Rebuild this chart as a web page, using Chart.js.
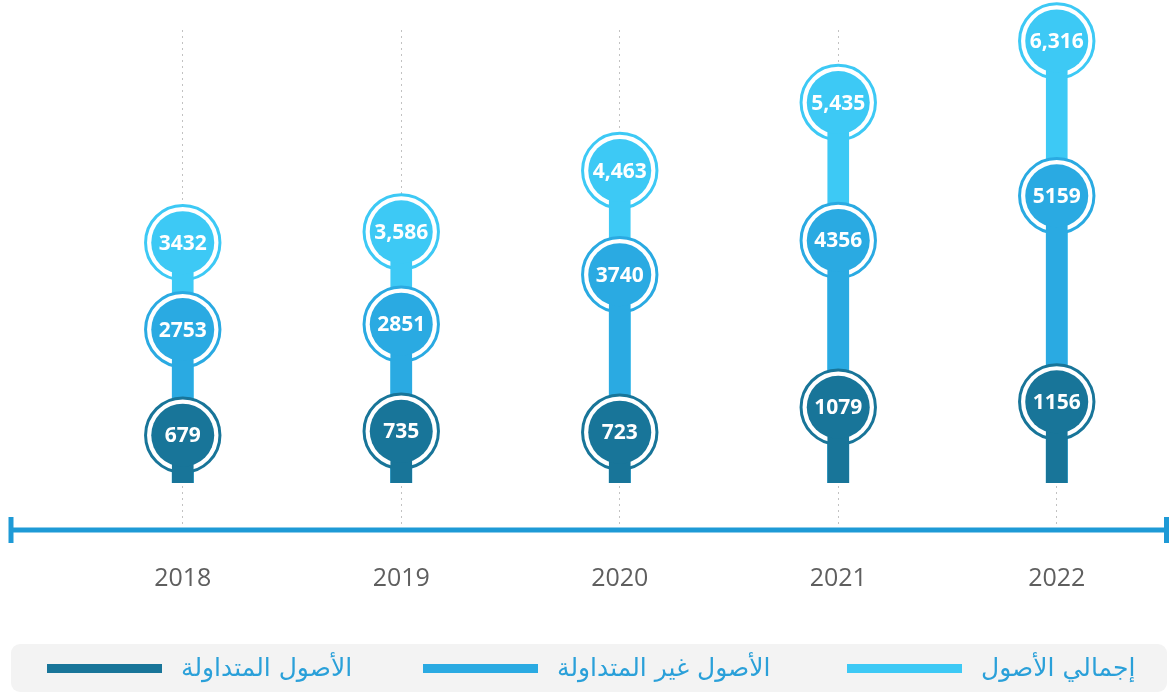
<!DOCTYPE html>
<html><head><meta charset="utf-8">
<script src="https://cdn.jsdelivr.net/npm/chart.js@4/dist/chart.umd.min.js"></script>
<style>
html,body{margin:0;padding:0;background:#fff}
#wrap{width:1169px;height:693px;position:relative;overflow:hidden}
#legend{position:absolute;left:11px;top:644px;width:1156px;height:48px;background:#f3f3f3;border-radius:9px}
.item{position:absolute;top:0;height:48px;display:flex;align-items:center;white-space:nowrap}
.swatch{display:inline-block;width:115px;height:9px}
.txt{margin-left:19px;font:25px 'DejaVu Sans',sans-serif;color:#2aa0d9;direction:rtl;line-height:48px}
</style>
</head><body><div id="wrap"><canvas id="c"></canvas><div id="legend"></div></div>
<script>
const years = ['2018', '2019', '2020', '2021', '2022'];
const currentAssets = [679, 735, 723, 1079, 1156];
const nonCurrentAssets = [2753, 2851, 3740, 4356, 5159];
const totalAssets = [3432, 3586, 4463, 5435, 6316];
const currentLabels = ['679', '735', '723', '1079', '1156'];
const nonCurrentLabels = ['2753', '2851', '3740', '4356', '5159'];
const totalLabels = ['3432', '3,586', '4,463', '5,435', '6,316'];
const seriesNames = ['الأصول المتداولة', 'الأصول غير المتداولة', 'إجمالي الأصول'];

const DARK = '#187599', MED = '#2aaae2', LIGHT = '#3dc9f5';

function ring(data, color, axis, order) {
  return { type: 'line', data, yAxisID: axis, order, showLine: false, clip: false,
    pointRadius: 37.2, pointHoverRadius: 37.2, pointBorderWidth: 3, pointHoverBorderWidth: 3,
    pointBackgroundColor: '#ffffff', pointBorderColor: color };
}
function fill(data, color, axis, labels) {
  return { type: 'line', data, yAxisID: axis, order: 1, showLine: false, clip: false,
    pointRadius: 31.5, pointHoverRadius: 31.5, pointBorderWidth: 0, pointHoverBorderWidth: 0,
    pointBackgroundColor: color, pointBorderColor: color, valueLabels: labels };
}
function bar(data, color, axis, order, name) {
  return { type: 'bar', label: name, data, yAxisID: axis, order, grouped: false, clip: false,
    backgroundColor: color, borderWidth: 0, barThickness: 21 };
}

const datasets = [
  ring(totalAssets, LIGHT, 'y', 7),
  bar(totalAssets, LIGHT, 'y', 6, seriesNames[2]),
  ring(nonCurrentAssets, MED, 'y2', 5),
  bar(nonCurrentAssets, MED, 'y2', 4, seriesNames[1]),
  ring(currentAssets, DARK, 'y', 3),
  bar(currentAssets, DARK, 'y', 2, seriesNames[0]),
  fill(totalAssets, LIGHT, 'y', totalLabels),
  fill(nonCurrentAssets, MED, 'y2', nonCurrentLabels),
  fill(currentAssets, DARK, 'y', currentLabels)
];

const decorPlugin = {
  id: 'decor',
  beforeDatasetsDraw(chart) {
    const ctx = chart.ctx, ca = chart.chartArea;
    const y = ca.bottom, xl = 11, xr = chart.width - 2.5;
    ctx.save();
    ctx.strokeStyle = '#1e9ad6';
    ctx.lineWidth = 5;
    ctx.beginPath(); ctx.moveTo(xl, y); ctx.lineTo(xr, y); ctx.stroke();
    ctx.beginPath(); ctx.moveTo(xl, y - 13); ctx.lineTo(xl, y + 13); ctx.stroke();
    ctx.beginPath(); ctx.moveTo(xr, y - 13); ctx.lineTo(xr, y + 13); ctx.stroke();
    ctx.restore();
  },
  afterDatasetsDraw(chart) {
    const ctx = chart.ctx;
    ctx.save();
    ctx.fillStyle = '#ffffff';
    ctx.font = 'bold 21px "Open Sans"';
    ctx.textAlign = 'center';
    ctx.textBaseline = 'middle';
    chart.data.datasets.forEach((ds, i) => {
      if (!ds.valueLabels) return;
      chart.getDatasetMeta(i).data.forEach((el, j) => {
        ctx.fillText(ds.valueLabels[j], el.x, el.y + 1);
      });
    });
    ctx.restore();
  }
};

const chart = new Chart(document.getElementById('c'), {
  type: 'bar',
  data: { labels: years, datasets },
  options: {
    responsive: true,
    maintainAspectRatio: false,
    animation: false,
    events: [],
    layout: { autoPadding: false, padding: { top: 30, left: 73.5, right: 3, bottom: 101 } },
    scales: {
      x: {
        offset: true,
        grid: { display: true, offset: false, color: '#c2c2c2', lineWidth: 1, drawTicks: false },
        border: { display: false, dash: [2, 4] },
        ticks: { color: '#5f5f5f', font: { family: 'Open Sans', size: 25 }, padding: 34, maxRotation: 0 },
        afterFit(scale) { scale.paddingLeft = 0; scale.paddingRight = 0; scale.height = 62; }
      },
      y: { display: false, min: -676, max: 6472 },
      y2: { display: false, min: -850, max: 8140, position: 'right' }
    },
    plugins: {
      tooltip: { enabled: false },
      legend: { display: false }
    }
  },
  plugins: [decorPlugin]
});

// Legend built from the bar datasets (dark, medium, light from left to right)
const legendEl = document.getElementById('legend');
const legendLeft = [36, 412, 836];
[5, 3, 1].forEach((dsIndex, k) => {
  const ds = chart.data.datasets[dsIndex];
  const item = document.createElement('div');
  item.className = 'item';
  item.style.left = legendLeft[k] + 'px';
  const sw = document.createElement('span');
  sw.className = 'swatch';
  sw.style.background = ds.backgroundColor;
  const tx = document.createElement('span');
  tx.className = 'txt';
  tx.textContent = ds.label;
  item.appendChild(sw);
  item.appendChild(tx);
  legendEl.appendChild(item);
});
</script></body></html>
